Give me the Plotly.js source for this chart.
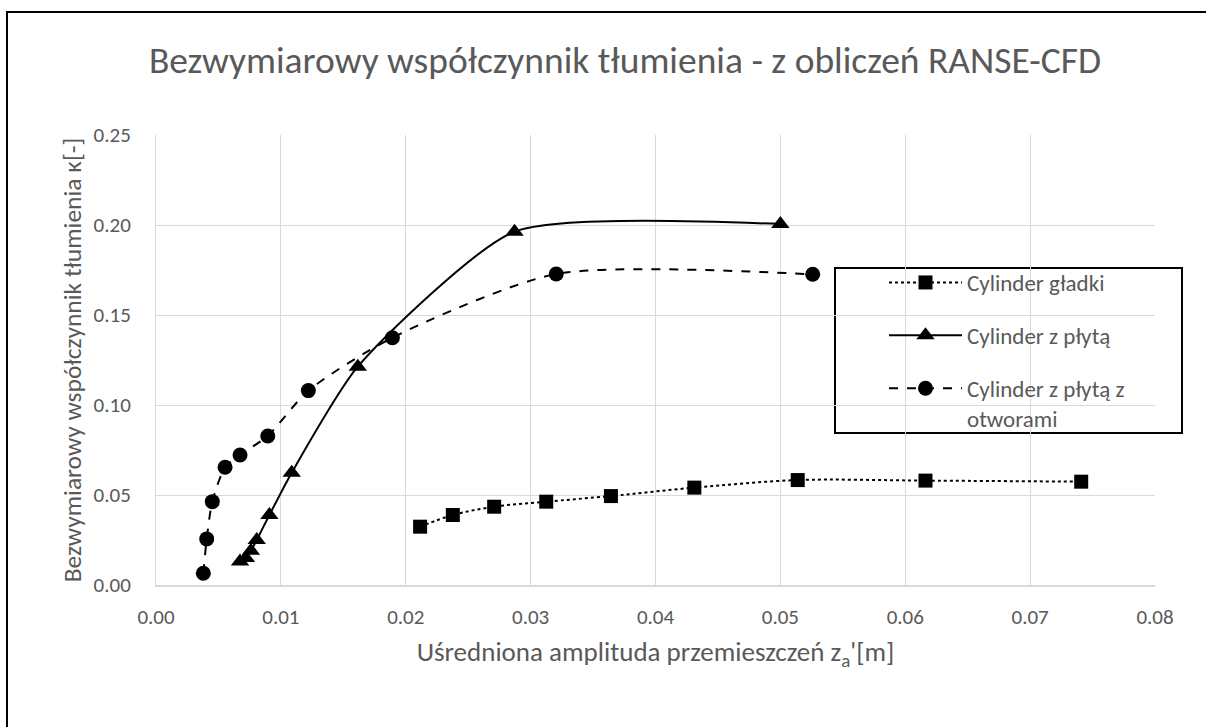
<!DOCTYPE html>
<html>
<head>
<meta charset="utf-8">
<script src="https://cdn.plot.ly/plotly-3.0.1.min.js"></script>
<style>
  html, body { margin: 0; padding: 0; background: #ffffff; overflow: hidden; }
  #frame { position: absolute; left: 6px; top: 11px; width: 1260px; height: 780px; border: 2px solid #000; box-sizing: border-box; }
  #chart { position: absolute; left: 0; top: 0; width: 1206px; height: 727px; }
</style>
</head>
<body>
<div id="frame"></div>
<div id="chart"></div>
<script>
// Cylinder gładki (squares, dotted)
const xGladki = [0.02115, 0.02377, 0.02708, 0.03125, 0.03643, 0.04311, 0.05139, 0.06162, 0.07409];
const yGladki = [0.0324, 0.0389, 0.0435, 0.0463, 0.0494, 0.0541, 0.0583, 0.0580, 0.0574];
// Cylinder z płytą (triangles, solid)
const xPlyta = [0.00673, 0.00720, 0.00760, 0.00807, 0.00908, 0.01087, 0.01616, 0.02871, 0.05000];
const yPlyta = [0.0130, 0.0150, 0.0190, 0.0250, 0.0389, 0.0624, 0.1213, 0.1963, 0.2005];
// Cylinder z płytą z otworami (circles, dashed)
const xOtwory = [0.00379, 0.00406, 0.00451, 0.00553, 0.00673, 0.00895, 0.0122, 0.01893, 0.03205, 0.05259];
const yOtwory = [0.0065, 0.0256, 0.0463, 0.0654, 0.0722, 0.0828, 0.108, 0.1374, 0.1728, 0.1726];

const seriesNames = ['Cylinder gładki', 'Cylinder z płytą', 'Cylinder z płytą z<br>otworami'];
const xTicks = [0, 0.01, 0.02, 0.03, 0.04, 0.05, 0.06, 0.07, 0.08];
const yTicks = [0, 0.05, 0.10, 0.15, 0.20, 0.25];

const FONT = 'Carlito, Lato, "Open Sans", sans-serif';
const GREY = '#595959';

const traces = [
  {
    x: xGladki, y: yGladki, name: seriesNames[0], type: 'scatter', mode: 'lines+markers',
    legendgroup: 'g1',
    line: { color: '#000', width: 2, dash: 'dot', shape: 'spline', smoothing: 0.9 },
    marker: { symbol: 'square', size: 14, color: '#000' }
  },
  {
    x: xPlyta, y: yPlyta, name: seriesNames[1], type: 'scatter', mode: 'lines+markers',
    legendgroup: 'g2',
    line: { color: '#000', width: 2, dash: 'solid', shape: 'spline', smoothing: 0.6 },
    marker: { symbol: 'triangle-up', size: 16, color: '#000' }
  },
  {
    x: xOtwory, y: yOtwory, name: seriesNames[2], type: 'scatter', mode: 'lines+markers',
    legendgroup: 'g3',
    line: { color: '#000', width: 2, dash: 'dash', shape: 'spline', smoothing: 0.7 },
    marker: { symbol: 'circle', size: 15, color: '#000' }
  }
];

const L = 156, R = 51, T = 135, B = 142;
const plotW = 1206 - L - R, plotH = 727 - T - B;
function px2x(p) { return (p - L) / plotW; }
function py2y(p) { return (727 - B - p) / plotH; }

const layout = {
  width: 1206, height: 727,
  paper_bgcolor: 'rgba(0,0,0,0)', plot_bgcolor: 'rgba(0,0,0,0)',
  margin: { l: L, r: R, t: T, b: B },
  font: { family: FONT, color: GREY, size: 21 },
  title: {
    text: 'Bezwymiarowy współczynnik tłumienia - z obliczeń RANSE-CFD',
    font: { family: FONT, size: 37.5, color: GREY },
    x: 625 / 1206, xref: 'container', xanchor: 'center',
    y: 1 - 60 / 727, yref: 'container', yanchor: 'middle'
  },
  xaxis: {
    range: [0, 0.08], tickvals: xTicks, tickformat: '.2f',
    showgrid: true, gridcolor: '#d9d9d9', gridwidth: 1,
    showline: true, linecolor: '#d9d9d9', linewidth: 2,
    zeroline: false, ticks: '', ticklabelstandoff: 12,
    tickfont: { family: FONT, size: 21, color: GREY },
    title: { text: "Uśredniona amplituda przemieszczeń z<sub>a</sub>'[m]", font: { family: FONT, size: 27, color: GREY }, standoff: 13 },
    automargin: false, fixedrange: true
  },
  yaxis: {
    range: [0, 0.25], tickvals: yTicks, tickformat: '.2f',
    showgrid: true, gridcolor: '#d9d9d9', gridwidth: 1,
    showline: true, linecolor: '#d9d9d9', linewidth: 1,
    zeroline: false, ticks: '', ticklabelstandoff: 20,
    tickfont: { family: FONT, size: 21, color: GREY },
    title: { text: 'Bezwymiarowy współczynnik tłumienia κ[-]', font: { family: FONT, size: 25.5, color: GREY }, standoff: 4 },
    automargin: false, fixedrange: true
  },
  showlegend: true,
  legend: {
    x: px2x(884), y: py2y(261), xanchor: 'left', yanchor: 'top',
    bgcolor: 'rgba(0,0,0,0)', borderwidth: 0,
    font: { family: FONT, size: 23, color: GREY },
    itemwidth: 73, tracegroupgap: 20, traceorder: 'grouped', valign: 'top'
  },
  shapes: [
    {
      type: 'rect', xref: 'paper', yref: 'paper', layer: 'between',
      x0: px2x(835), x1: px2x(1182), y0: py2y(433), y1: py2y(268),
      line: { color: '#000', width: 2 }, fillcolor: '#ffffff'
    }
  ]
};

Plotly.newPlot('chart', traces, layout, { displayModeBar: false, staticPlot: true });
</script>
</body>
</html>
